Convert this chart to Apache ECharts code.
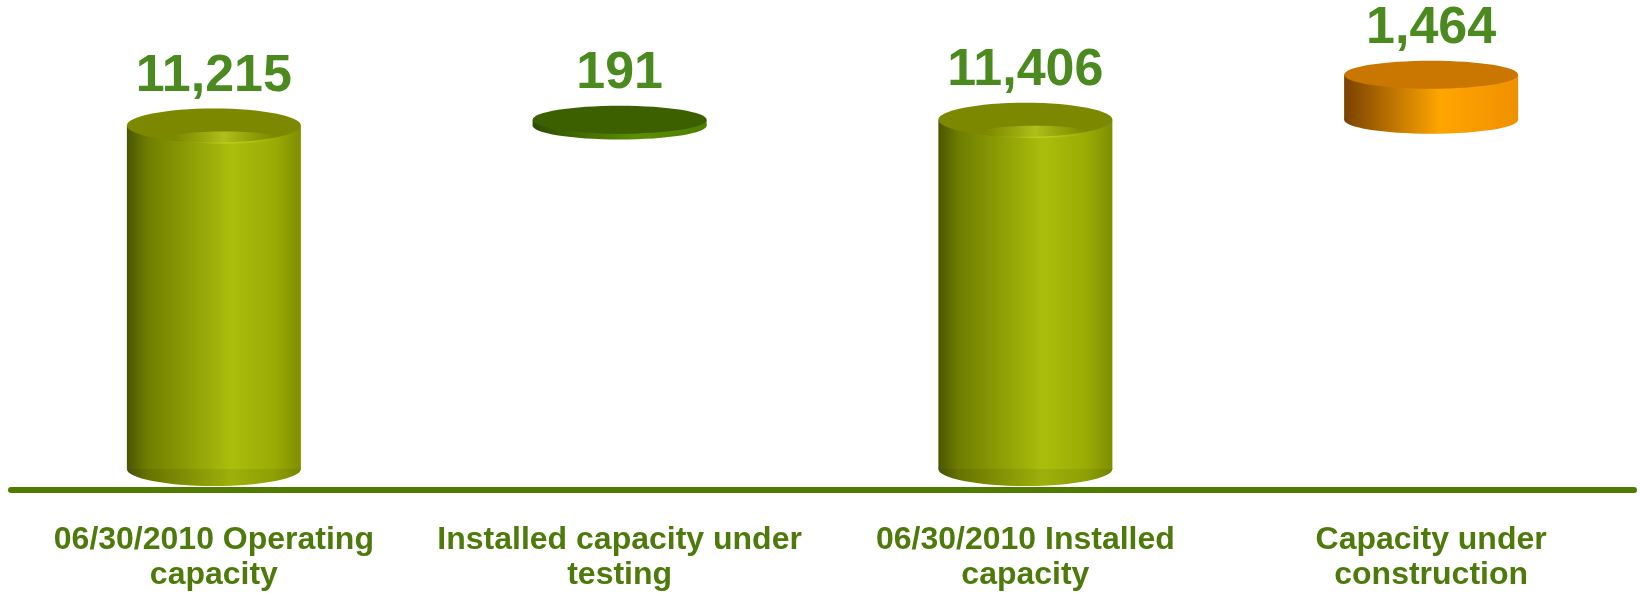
<!DOCTYPE html>
<html>
<head>
<meta charset="utf-8">
<script src="https://cdn.jsdelivr.net/npm/echarts@6/dist/echarts.min.js"></script>
<style>
html,body{margin:0;padding:0;background:#fff;}
#chart{width:1640px;height:593px;}
</style>
</head>
<body>
<div id="chart"></div>
<script>
// ---- data ----
const categories = ['06/30/2010 Operating\ncapacity', 'Installed capacity under\ntesting', '06/30/2010 Installed\ncapacity', 'Capacity under\nconstruction'];
const values = [11215, 191, 11406, 1464];
const baseValues = [0, 11215, 0, 11406];
const kinds = ['total', 'step', 'total', 'pending'];

// ---- styles ----
const styles = {
  total: {
    ry: 17,
    body: [['0', '#4a5600'], ['0.12', '#6f7e00'], ['0.6', '#abbd0c'], ['0.85', '#9aab05'], ['1', '#7f8e00']],
    bottom: [['0', '#44500a'], ['0.12', '#667400'], ['0.6', '#9db00a'], ['0.85', '#8e9f04'], ['1', '#758400']],
    top: '#7b8800', hi: true
  },
  step: {
    ry: 14,
    body: [['0', '#2e4d00'], ['0.6', '#5c8f00'], ['1', '#4f7d00']],
    bottom: [['0', '#2e4d00'], ['0.6', '#5c8f00'], ['1', '#4f7d00']],
    top: '#3c6000', hi: false
  },
  pending: {
    ry: 14,
    body: [['0', '#7a4200'], ['0.55', '#ffa500'], ['1', '#f09000']],
    bottom: [['0', '#7a4200'], ['0.55', '#ffa500'], ['1', '#f09000']],
    top: '#c97700', hi: false
  }
};
const BAR_HALF = 87;
const LIFT = 21;

const chart = echarts.init(document.getElementById('chart'), null, {renderer: 'canvas'});

function grad(stops) {
  return new echarts.graphic.LinearGradient(0, 0, 1, 0, stops.map(s => ({offset: +s[0], color: s[1]})));
}

function renderItem(params, api) {
  const i = api.value(0);
  const base = api.value(1);
  const top = api.value(2);
  const st = styles[kinds[i]];
  const pBase = api.coord([i, base]);
  const pTop = api.coord([i, top]);
  const cx = pBase[0];
  const yb = pBase[1] - LIFT;
  const yt = pTop[1] - LIFT;
  const rx = BAR_HALF, ry = st.ry;
  const children = [
    {type: 'ellipse', shape: {cx: cx, cy: yb, rx: rx, ry: ry}, style: {fill: grad(st.bottom)}},
    {type: 'rect', shape: {x: cx - rx, y: yt, width: rx * 2, height: Math.max(0, yb - yt)}, style: {fill: grad(st.body)}},
    {type: 'ellipse', shape: {cx: cx, cy: yt, rx: rx, ry: ry}, style: {fill: st.top}}
  ];
  if (st.hi) {
    children.push({type: 'ellipse', shape: {cx: cx + 10, cy: yt + ry - 5, rx: rx * 0.6, ry: 6},
      style: {fill: new echarts.graphic.LinearGradient(0, 0, 1, 0, [
        {offset: 0, color: 'rgba(200,215,20,0)'},
        {offset: 0.5, color: 'rgba(220,235,50,0.55)'},
        {offset: 1, color: 'rgba(200,215,20,0)'}])}});
  }
  const topEdge = yt - ry;
  children.push({
    type: 'text',
    style: {
      text: values[i].toLocaleString('en-US'),
      x: cx, y: topEdge - 32,
      textAlign: 'center', textVerticalAlign: 'middle',
      font: 'bold 52px "Liberation Sans", Arial, sans-serif',
      fill: '#4b8a1f'
    }
  });
  return {type: 'group', children: children};
}

const seriesData = categories.map((c, i) => [i, baseValues[i], baseValues[i] + values[i]]);

chart.setOption({
  animation: false,
  grid: {left: 11, right: 6, top: 0, bottom: 102},
  xAxis: {
    type: 'category',
    data: categories,
    axisLine: {show: true, lineStyle: {color: '#4f7c00', width: 6, cap: 'round'}},
    axisTick: {show: false},
    axisLabel: {
      interval: 0, margin: 33,
      color: '#4d7a0a', fontSize: 32, fontWeight: 'bold', lineHeight: 35,
      fontFamily: '"Liberation Sans", Arial, sans-serif'
    },
    splitLine: {show: false}
  },
  yAxis: {type: 'value', min: 0, max: 16000, show: false, splitLine: {show: false}},
  series: [{
    type: 'custom',
    renderItem: renderItem,
    encode: {x: 0, y: [1, 2]},
    data: seriesData,
    clip: false
  }]
});
</script>
</body>
</html>
